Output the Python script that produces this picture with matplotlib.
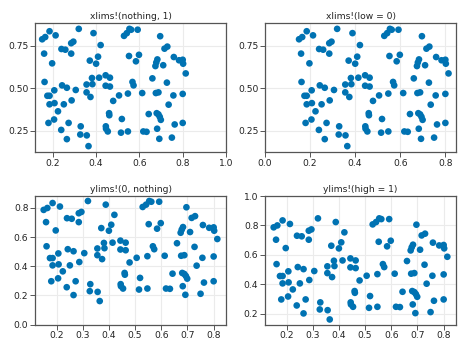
import numpy as np
import matplotlib.pyplot as plt

plt.rcParams['font.family'] = 'DejaVu Sans'

# scatter points, same set drawn in every panel
xs = [0.151, 0.165, 0.185, 0.160, 0.162, 0.175, 0.185, 0.185, 0.180, 0.197,
      0.213, 0.207, 0.208, 0.206, 0.224, 0.240, 0.258, 0.243, 0.251, 0.239,
      0.265, 0.273, 0.265, 0.285, 0.285, 0.295, 0.287, 0.306, 0.320, 0.329,
      0.327, 0.371, 0.356, 0.356, 0.374, 0.383, 0.381, 0.357, 0.365, 0.388,
      0.400, 0.409, 0.421, 0.414, 0.444, 0.444, 0.464, 0.464, 0.445, 0.446,
      0.454, 0.460, 0.461, 0.479, 0.506, 0.519, 0.515, 0.529, 0.542, 0.554,
      0.562, 0.552, 0.547, 0.547, 0.568, 0.573, 0.584, 0.592, 0.598, 0.613,
      0.618, 0.633, 0.643, 0.660, 0.674, 0.678, 0.683, 0.676, 0.688, 0.680,
      0.688, 0.694, 0.699, 0.682, 0.692, 0.696, 0.710, 0.716, 0.729, 0.727,
      0.735, 0.750, 0.759, 0.757, 0.763, 0.783, 0.800, 0.802, 0.814, 0.800,
      0.800]
ys = [0.787, 0.800, 0.834, 0.703, 0.537, 0.456, 0.456, 0.406, 0.297, 0.646,
      0.810, 0.488, 0.413, 0.317, 0.365, 0.730, 0.726, 0.517, 0.406, 0.256,
      0.503, 0.297, 0.202, 0.703, 0.764, 0.773, 0.429, 0.490, 0.848, 0.277,
      0.229, 0.662, 0.522, 0.476, 0.449, 0.524, 0.560, 0.224, 0.161, 0.823,
      0.644, 0.685, 0.753, 0.562, 0.576, 0.515, 0.510, 0.562, 0.277, 0.263,
      0.247, 0.354, 0.342, 0.426, 0.458, 0.320, 0.240, 0.807, 0.823, 0.848,
      0.843, 0.689, 0.469, 0.247, 0.537, 0.517, 0.658, 0.843, 0.696, 0.472,
      0.247, 0.245, 0.349, 0.558, 0.630, 0.651, 0.669, 0.472, 0.476, 0.354,
      0.347, 0.333, 0.315, 0.263, 0.204, 0.805, 0.635, 0.732, 0.744, 0.533,
      0.404, 0.211, 0.683, 0.458, 0.288, 0.664, 0.667, 0.644, 0.587, 0.467,
      0.297]

titles = ["xlims!(nothing, 1)", "xlims!(low = 0)",
          "ylims!(0, nothing)", "ylims!(high = 1)"]


def auto_lims(v, m=0.05):
    lo, hi = min(v), max(v)
    return lo - m * (hi - lo), hi + m * (hi - lo)


xa = auto_lims(xs)
ya = auto_lims(ys)

xlims = [(xa[0], 1.0), (0.0, xa[1]), xa, xa]
ylims = [ya, ya, (0.0, ya[1]), (ya[0], 1.0)]

xticks = [[0.2, 0.4, 0.6, 0.8, 1.0],
          [0.0, 0.2, 0.4, 0.6, 0.8],
          [0.2, 0.3, 0.4, 0.5, 0.6, 0.7, 0.8],
          [0.2, 0.3, 0.4, 0.5, 0.6, 0.7, 0.8]]
yticks = [[0.25, 0.50, 0.75],
          [0.25, 0.50, 0.75],
          [0.0, 0.2, 0.4, 0.6, 0.8],
          [0.2, 0.4, 0.6, 0.8, 1.0]]
xfmt = ["%.1f", "%.1f", "%.1f", "%.1f"]
yfmt = ["%.2f", "%.2f", "%.1f", "%.1f"]

W, H = 466, 350
# axes boxes in pixels: left, top, right, bottom
boxes = [(35, 23, 226, 152), (265, 23, 456, 152),
         (35, 196, 226, 324.5), (265, 196, 456, 324.5)]

fig = plt.figure(figsize=(W / 100, H / 100), dpi=100)

for k in range(4):
    l, t, r, b = boxes[k]
    ax = fig.add_axes([l / W, 1 - b / H, (r - l) / W, (b - t) / H])
    ax.scatter(xs, ys, s=23, color='#0072B2', edgecolors='none', zorder=3)
    ax.set_xlim(*xlims[k])
    ax.set_ylim(*ylims[k])
    ax.set_xticks(xticks[k])
    ax.set_yticks(yticks[k])
    ax.set_xticklabels([xfmt[k] % v for v in xticks[k]])
    ax.set_yticklabels([yfmt[k] % v for v in yticks[k]])
    ax.grid(True, color='#ebebeb', linewidth=0.8, zorder=0)
    ax.set_axisbelow(True)
    for sp in ax.spines.values():
        sp.set_color('#555555')
        sp.set_linewidth(0.9)
    ax.tick_params(direction='out', length=3.5, width=0.7, pad=1.2,
                   colors='#555555', labelsize=6.6, labelcolor='#222222')
    ax.set_title(titles[k], fontsize=6.6, pad=3, color='#222222')

fig.savefig('out.png', dpi=100)
